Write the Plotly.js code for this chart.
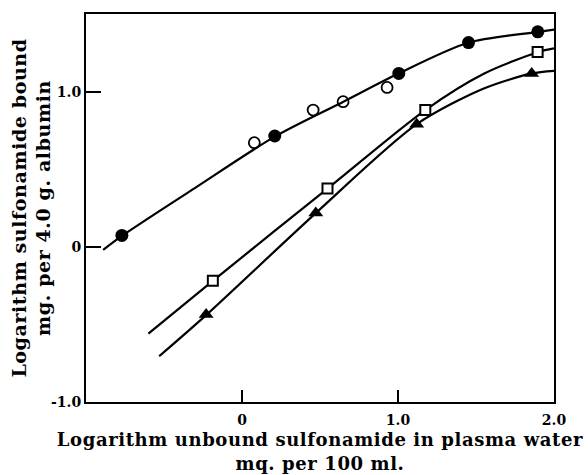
<!DOCTYPE html>
<html>
<head>
<meta charset="utf-8">
<script src="https://cdn.plot.ly/plotly-3.0.1.min.js"></script>
<style>
html,body{margin:0;padding:0;background:#fff;}
#chart{width:588px;height:475px;}
text.xtitle{letter-spacing:0.6px;}
text.ytitle{letter-spacing:0.6px;}
g.g-ytitle{transform:translateX(6px);}
</style>
</head>
<body>
<div id="chart"></div>
<script>
// Filled circles
var filledCircleX = [-0.77, 0.21, 1.005, 1.452, 1.896];
var filledCircleY = [0.073, 0.714, 1.117, 1.316, 1.385];
// Open circles
var openCircleX = [0.079, 0.456, 0.648, 0.930];
var openCircleY = [0.671, 0.881, 0.935, 1.027];
// Open squares
var squareX = [-0.187, 0.548, 1.175, 1.895];
var squareY = [-0.219, 0.375, 0.881, 1.255];
// Filled triangles
var triangleX = [-0.23, 0.473, 1.12, 1.857];
var triangleY = [-0.437, 0.217, 0.79, 1.117];

// Fitted curves
var curveCircleX = [-0.89, -0.77, -0.3, 0.21, 0.65, 1.0, 1.45, 1.9, 2.0];
var curveCircleY = [-0.02, 0.07, 0.38, 0.71, 0.935, 1.115, 1.315, 1.385, 1.40];
var curveSquareX = [-0.60, -0.187, 0.548, 1.175, 1.55, 1.9, 2.0];
var curveSquareY = [-0.56, -0.219, 0.375, 0.881, 1.115, 1.255, 1.278];
var curveTriangleX = [-0.531, -0.23, 0.473, 1.12, 1.55, 1.857, 2.0];
var curveTriangleY = [-0.705, -0.44, 0.217, 0.79, 1.02, 1.117, 1.134];

var xTickVals = [0, 1, 2];
var xTickText = ['0', '1.0', '2.0'];
var yTickVals = [-1, 0, 1];
var yTickText = ['-1.0', '0', '1.0'];

var fontFam = 'DejaVu Serif';
var lineStyle = {color: '#000', width: 2.2, shape: 'spline', smoothing: 0.8};

var traces = [
  {x: curveCircleX, y: curveCircleY, mode: 'lines', line: lineStyle, hoverinfo: 'skip'},
  {x: curveSquareX, y: curveSquareY, mode: 'lines', line: lineStyle, hoverinfo: 'skip'},
  {x: curveTriangleX, y: curveTriangleY, mode: 'lines', line: lineStyle, hoverinfo: 'skip'},
  {x: filledCircleX, y: filledCircleY, mode: 'markers',
   marker: {symbol: 'circle', size: 13, color: '#000', line: {width: 0}}},
  {x: openCircleX, y: openCircleY, mode: 'markers',
   marker: {symbol: 'circle-open', size: 11, color: '#000', line: {width: 1.8}}},
  {x: squareX, y: squareY, mode: 'markers',
   marker: {symbol: 'square', size: 10, color: '#fff', line: {width: 2, color: '#000'}}},
  {x: triangleX, y: triangleY, mode: 'markers',
   marker: {symbol: 'triangle-up', size: 13, color: '#000', line: {width: 0}}}
];

var layout = {
  width: 588, height: 475,
  margin: {l: 86, r: 34, t: 14, b: 73},
  showlegend: false,
  paper_bgcolor: '#fff', plot_bgcolor: '#fff',
  font: {family: fontFam, color: '#000'},
  xaxis: {
    range: [-1, 2], tickvals: xTickVals, ticktext: xTickText,
    ticks: 'inside', ticklen: 12, tickwidth: 2, tickcolor: '#000',
    showline: true, linewidth: 2, linecolor: '#000', mirror: true,
    showgrid: false, zeroline: false, ticklabelstandoff: 4,
    tickfont: {family: fontFam, size: 14, weight: 'bold'},
    title: {text: 'Logarithm unbound sulfonamide in plasma water<br>mq. per 100 ml.',
            font: {family: fontFam, size: 18, weight: 'bold'}, standoff: 7}
  },
  yaxis: {
    range: [-1, 1.5], tickvals: yTickVals, ticktext: yTickText,
    ticks: 'inside', ticklen: 15, tickwidth: 2, tickcolor: '#000',
    showline: true, linewidth: 2, linecolor: '#000', mirror: true,
    showgrid: false, zeroline: false,
    tickfont: {family: fontFam, size: 14, weight: 'bold'},
    title: {text: 'Logarithm sulfonamide bound<br>mg. per 4.0 g. albumin',
            font: {family: fontFam, size: 19, weight: 'bold'}, standoff: 1}
  }
};

Plotly.newPlot('chart', traces, layout, {displayModeBar: false, staticPlot: true});
</script>
</body>
</html>
